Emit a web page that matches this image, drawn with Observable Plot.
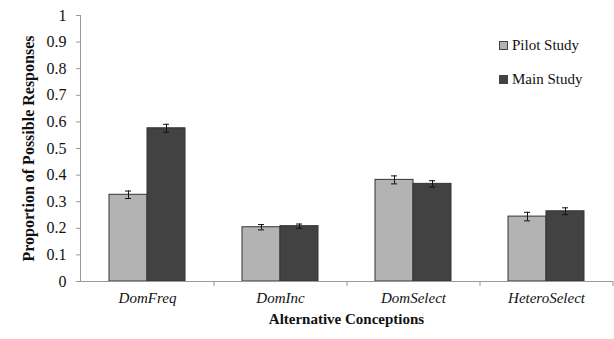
<!DOCTYPE html>
<html>
<head>
<meta charset="utf-8">
<script src="https://cdn.jsdelivr.net/npm/d3@7"></script>
<script src="https://cdn.jsdelivr.net/npm/@observablehq/plot@0.6"></script>
<style>
  body { margin: 0; background: #fff; }
  #wrap { position: relative; width: 614px; height: 339px; font-family: "Liberation Serif", "Times New Roman", serif; }
  #wrap svg, #wrap svg text { font-family: "Liberation Serif", "Times New Roman", serif !important; }
  g[aria-label="x-axis tick label"] text { font-style: italic; }
  g[aria-label="x-axis label"] text, g[aria-label="y-axis label"] text { font-weight: bold; }
  .legend { position: absolute; left: 499px; font-size: 15px; color: #111; display: flex; align-items: center; }
  .legend span.sw { display: inline-block; width: 7px; height: 7px; border: 1px solid #444; margin-right: 4px; }
</style>
</head>
<body>
<div id="wrap"></div>
<script>
const categories = ["DomFreq", "DomInc", "DomSelect", "HeteroSelect"];
const series = ["Pilot Study", "Main Study"];
const pilotValues = [0.326, 0.204, 0.382, 0.244];
const mainValues = [0.576, 0.208, 0.367, 0.264];
const pilotErrors = [0.014, 0.010, 0.015, 0.016];
const mainErrors = [0.015, 0.008, 0.012, 0.013];
const yTicks = [0, 0.1, 0.2, 0.3, 0.4, 0.5, 0.6, 0.7, 0.8, 0.9, 1];
const colors = ["#b3b3b3", "#424242"];

const pilot = categories.map((c, i) => ({cat: c, v: pilotValues[i], e: pilotErrors[i]}));
const main = categories.map((c, i) => ({cat: c, v: mainValues[i], e: mainErrors[i]}));

const half = 38;
const errMarks = (data, dx) => [
  Plot.ruleX(data, {x: "cat", y1: d => d.v - d.e, y2: d => d.v + d.e, dx, stroke: "#111", strokeWidth: 1}),
  Plot.tickY(data, {x: "cat", y: d => d.v - d.e, dx, insetLeft: 35, insetRight: 35, stroke: "#111"}),
  Plot.tickY(data, {x: "cat", y: d => d.v + d.e, dx, insetLeft: 35, insetRight: 35, stroke: "#111"})
];
const plot = Plot.plot({
  width: 614,
  height: 339,
  marginLeft: 80,
  marginRight: 2,
  marginTop: 15,
  marginBottom: 58,
  style: {fontSize: "15px", color: "#111", fontFamily: "Liberation Serif, Times New Roman, serif"},
  x: {domain: categories, paddingInner: 0.43, paddingOuter: 0.215, label: null},
  y: {domain: [0, 1], ticks: yTicks, label: null},
  marks: [
    Plot.barY(pilot, {x: "cat", y: "v", fill: colors[0], stroke: "#333", strokeWidth: 1, insetRight: half}),
    Plot.barY(main, {x: "cat", y: "v", fill: colors[1], stroke: "#333", strokeWidth: 1, insetLeft: half}),
    ...errMarks(pilot, -19),
    ...errMarks(main, 19),
    Plot.frame({anchor: "left", stroke: "#999"}),
    Plot.frame({anchor: "bottom", stroke: "#999"}),
    Plot.axisY({ticks: yTicks, tickFormat: d3.format(".1~f"), tickSize: 4, tickPadding: 10, stroke: "#999", fontSize: 16,
      label: "Proportion of Possible Responses", labelAnchor: "center", labelOffset: 58, labelArrow: "none"}),
    Plot.axisX({tickSize: 5, stroke: "#999", dx: 66.5, text: null, label: null}),
    Plot.axisX({tickSize: 0, tickPadding: 11, fontSize: 15, label: "Alternative Conceptions", labelAnchor: "center", labelOffset: 42, labelArrow: "none"})
  ]
});
const wrap = document.getElementById("wrap");
wrap.appendChild(plot);
series.forEach((s, i) => {
  const d = document.createElement("div");
  d.className = "legend";
  d.style.top = (37 + i * 34) + "px";
  d.innerHTML = `<span class="sw" style="background:${colors[i]}"></span>${s}`;
  wrap.appendChild(d);
});
</script>
</body>
</html>
